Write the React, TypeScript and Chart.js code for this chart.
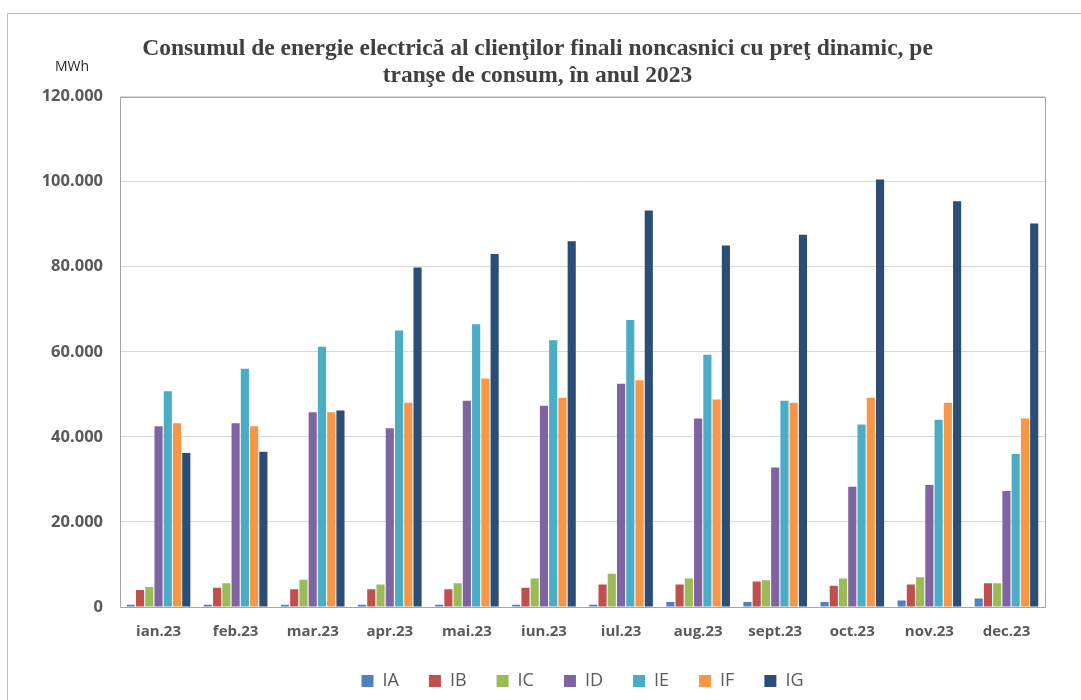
import { useEffect, useRef } from "react";
import { Chart, registerables } from "chart.js";

Chart.register(...registerables);

const categories = [
  "ian.23", "feb.23", "mar.23", "apr.23", "mai.23", "iun.23",
  "iul.23", "aug.23", "sept.23", "oct.23", "nov.23", "dec.23",
];

const seriesNames = ["IA", "IB", "IC", "ID", "IE", "IF", "IG"];

const IA = [500, 500, 500, 500, 500, 500, 500, 1200, 1200, 1200, 1500, 2000];
const IB = [4000, 4500, 4200, 4200, 4200, 4500, 5300, 5300, 6000, 5000, 5300, 5600];
const IC = [4700, 5600, 6400, 5300, 5600, 6700, 7800, 6700, 6300, 6700, 7000, 5600];
const ID = [42500, 43200, 45800, 42000, 48500, 47300, 52500, 44300, 32800, 28300, 28700, 27300];
const IE = [50700, 56000, 61200, 65000, 66500, 62700, 67500, 59300, 48500, 42900, 44000, 36000];
const IF = [43200, 42500, 45800, 48000, 53700, 49200, 53300, 48800, 48000, 49200, 48000, 44300];
const IG = [36200, 36500, 46200, 79800, 83000, 86000, 93200, 85000, 87500, 100500, 95400, 90200];

const seriesValues = [IA, IB, IC, ID, IE, IF, IG];
const seriesColors = ["#4F81BD", "#C0504D", "#9BBB59", "#8064A2", "#4BACC6", "#F79646", "#2C4D75"];

const yMin = 0;
const yMax = 120000;
const yStep = 20000;

const titleLines = [
  "Consumul de energie electrică al clienţilor finali noncasnici cu preţ dinamic, pe",
  "tranşe de consum, în anul 2023",
];
const unitLabel = "MWh";

function formatThousands(v: number): string {
  const s = Math.round(v).toString();
  return s.replace(/\B(?=(\d{3})+(?!\d))/g, ".");
}

const extrasPlugin = {
  id: "extras",
  afterDraw(chart: any) {
    const { ctx, chartArea } = chart;
    const { left, top, right, bottom } = chartArea;
    ctx.save();
    ctx.strokeStyle = "#a6a6a6";
    ctx.lineWidth = 1;
    ctx.beginPath();
    ctx.rect(Math.round(left) + 0.5, Math.round(top) + 0.5, Math.round(right - left), Math.round(bottom - top));
    ctx.stroke();
    ctx.font = '14px "Open Sans"';
    ctx.fillStyle = "#262626";
    ctx.textAlign = "center";
    ctx.textBaseline = "middle";
    ctx.fillText(unitLabel, left - 48, top - 30);
    ctx.restore();
  },
};

export default function App() {
  const canvasRef = useRef<HTMLCanvasElement | null>(null);

  useEffect(() => {
    document.body.style.margin = "0";
    const canvas = canvasRef.current;
    if (!canvas) return;
    const chart = new Chart(canvas, {
      type: "bar",
      data: {
        labels: categories,
        datasets: seriesNames.map((name, i) => ({
          label: name,
          data: seriesValues[i],
          backgroundColor: seriesColors[i],
          borderColor: "#ffffff",
          borderWidth: 0,
          barPercentage: 0.88,
          categoryPercentage: 0.84,
        })),
      },
      options: {
        responsive: false,
        animation: false,
        devicePixelRatio: 1,
        layout: { padding: { left: 15, right: 21, top: 0, bottom: 0 } },
        plugins: {
          title: {
            display: true,
            text: titleLines,
            color: "#404040",
            font: { family: '"Liberation Serif", "Times New Roman", serif', size: 23.5, weight: "bold", lineHeight: 1.12 },
            padding: { top: 36, bottom: 8 },
          },
          legend: {
            display: true,
            position: "bottom",
            fullSize: false,
            labels: {
              boxWidth: 12,
              boxHeight: 12,
              padding: 30,
              color: "#595959",
              font: { family: '"Open Sans", sans-serif', size: 18 },
            },
          },
          tooltip: { enabled: false },
        },
        scales: {
          x: {
            grid: { display: false, drawTicks: false },
            border: { display: false },
            ticks: {
              color: "#595959",
              padding: 16,
              font: { family: '"Open Sans", sans-serif', size: 15, weight: "bold" },
              maxRotation: 0,
              autoSkip: false,
            },
            afterFit(scale: any) {
              scale.height = 35;
            },
          },
          y: {
            min: yMin,
            max: yMax,
            grid: { color: "#d9d9d9", drawTicks: false, lineWidth: 1 },
            border: { display: false },
            ticks: {
              stepSize: yStep,
              color: "#595959",
              padding: 17,
              font: { family: '"Open Sans", sans-serif', size: 16.5, weight: "bold" },
              callback: (v: any) => formatThousands(Number(v)),
            },
            afterFit(scale: any) {
              scale.width = 105;
            },
          },
          ySpacer: {
            type: "linear",
            position: "right",
            display: true,
            min: yMin,
            max: yMax,
            grid: { display: false, drawTicks: false },
            border: { display: false },
            ticks: { display: false },
            afterFit(scale: any) {
              scale.width = 15;
            },
          },
        },
      },
      plugins: [extrasPlugin],
    });
    return () => chart.destroy();
  }, []);

  return (
    <div style={{ position: "relative", width: 1081, height: 700, overflow: "hidden", background: "#ffffff" }}>
      <div
        style={{
          position: "absolute",
          left: 7,
          top: 13,
          width: 1100,
          height: 720,
          border: "1px solid #bfbfbf",
          boxSizing: "border-box",
        }}
      />
      <canvas
        ref={canvasRef}
        width={1081}
        height={700}
        style={{ position: "absolute", left: 0, top: 0, width: 1081, height: 700 }}
      />
    </div>
  );
}
